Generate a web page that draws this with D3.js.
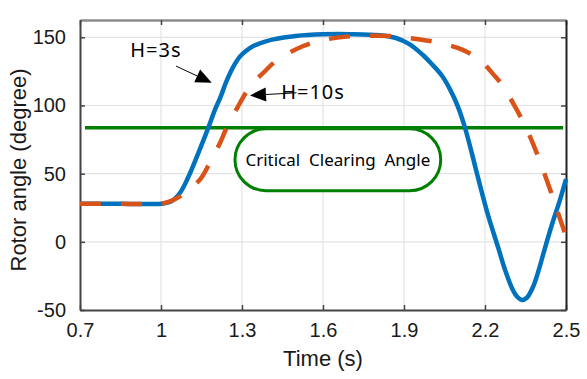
<!DOCTYPE html>
<html><head><meta charset="utf-8">
<script src="https://cdn.jsdelivr.net/npm/d3@7"></script>
<style>body{margin:0;background:#fff}svg{display:block}</style>
</head><body>
<script>
const xTicks = [0.7, 1, 1.3, 1.6, 1.9, 2.2, 2.5];
const yTicks = [-50, 0, 50, 100, 150];
const tH3  = [0.7, 0.85, 1.0, 1.04, 1.07, 1.1, 1.14, 1.175, 1.2, 1.22, 1.243, 1.268, 1.293, 1.318, 1.342, 1.38, 1.416, 1.5, 1.6, 1.7, 1.81, 1.87, 1.92, 1.97, 2.0, 2.04, 2.07, 2.1, 2.126, 2.15, 2.169, 2.19, 2.212, 2.25, 2.275, 2.3, 2.32, 2.336, 2.355, 2.378, 2.4, 2.42, 2.45, 2.478, 2.5];
const vH3  = [28, 28, 28, 30, 35.8, 47, 66, 83.6, 97, 106, 118, 128.5, 136, 140.5, 143.6, 146.5, 148.5, 151, 152.2, 152.3, 151.5, 149.5, 145, 137, 131, 122, 112, 99, 83.6, 66, 51, 35, 19, -5, -21, -34, -40.5, -42.6, -41, -33, -20, -6, 14, 31, 46];
const tH10 = [0.7, 0.85, 1.0, 1.033, 1.07, 1.144, 1.18, 1.2185, 1.243, 1.293, 1.33, 1.379, 1.428, 1.527, 1.6, 1.688, 1.78, 1.848, 1.92, 1.996, 2.06, 2.113, 2.179, 2.23, 2.26, 2.29, 2.32, 2.35, 2.38, 2.41, 2.44, 2.47, 2.5];
const vH10 = [28, 28, 28, 29.6, 33.3, 45.6, 57.8, 72.5, 83.6, 102, 114, 124, 133, 143.6, 148, 150.5, 151.2, 151, 149.5, 147.3, 144.5, 141.2, 133.8, 123, 116, 106.5, 96, 84.5, 71, 55.5, 39, 21.5, 4];
const cca = 83.6;
const ccaRange = [0.7185, 2.489];
const boxLabel = "Critical  Clearing  Angle";
const boxT = [1.274, 2.036];
const boxV = [82.9, 37.5];
const ann = [
  {label: "H=3s",  tx: 0.981, tv: 135.3, anchor: "middle", from: [1.0556, 128.9], to: [1.1878, 116.7]},
  {label: "H=10s", tx: 1.445, tv: 104.4, anchor: "start",  from: [1.502, 109.3],  to: [1.3296, 107.4]}
];
const W = 587, H = 379, m = {l: 80, r: 21, t: 20, b: 69};
const svg = d3.select("body").append("svg").attr("width", W).attr("height", H);
const x = d3.scaleLinear().domain([0.7, 2.5]).range([m.l, W - m.r]);
const y = d3.scaleLinear().domain([-50, 162.7]).range([H - m.b, m.t]);
const tickFont = "'Liberation Sans', Arial, sans-serif";
const annFont = "'Noto Sans', 'Open Sans', sans-serif";
const fmt = d => String(d);
// grid
svg.append("g").selectAll("line").data(xTicks.slice(1, -1)).join("line")
  .attr("x1", d => x(d)).attr("x2", d => x(d)).attr("y1", m.t).attr("y2", H - m.b)
  .attr("stroke", "#e3e3e3").attr("stroke-width", 1.2);
svg.append("g").selectAll("line").data(yTicks.slice(1)).join("line")
  .attr("y1", d => y(d)).attr("y2", d => y(d)).attr("x1", m.l).attr("x2", W - m.r)
  .attr("stroke", "#e3e3e3").attr("stroke-width", 1.2);
// axes
const xa = svg.append("g").attr("transform", `translate(0,${H - m.b})`)
  .call(d3.axisBottom(x).tickValues(xTicks).tickFormat(fmt).tickSizeInner(-5).tickSizeOuter(0).tickPadding(13));
const xt = svg.append("g").attr("transform", `translate(0,${m.t})`)
  .call(d3.axisTop(x).tickValues(xTicks).tickFormat("").tickSizeInner(-5).tickSizeOuter(0));
const ya = svg.append("g").attr("transform", `translate(${m.l},0)`)
  .call(d3.axisLeft(y).tickValues(yTicks).tickFormat(fmt).tickSizeInner(-5).tickSizeOuter(0).tickPadding(14));
const yr = svg.append("g").attr("transform", `translate(${W - m.r},0)`)
  .call(d3.axisRight(y).tickValues(yTicks).tickFormat("").tickSizeInner(-5).tickSizeOuter(0));
[xa, ya].forEach(g => {
  g.selectAll("text").attr("font-family", tickFont).attr("font-size", 20).attr("fill", "#1a1a1a");
  g.select(".domain").attr("stroke", "#444").attr("stroke-width", 2);
  g.selectAll(".tick line").attr("stroke", "#444").attr("stroke-width", 1.5);
});
xt.select(".domain").attr("stroke", "#8c8c8c").attr("stroke-width", 2.5);
xt.selectAll(".tick line").attr("stroke", "#444").attr("stroke-width", 1.5);
yr.select(".domain").attr("stroke", "#222").attr("stroke-width", 2);
yr.selectAll(".tick line").attr("stroke", "#444").attr("stroke-width", 1.5);
// critical line
svg.append("line").attr("x1", x(ccaRange[0])).attr("x2", x(ccaRange[1]))
  .attr("y1", y(cca)).attr("y2", y(cca)).attr("stroke", "#007f00").attr("stroke-width", 3.5);
// curves
const line = d3.line().x(d => x(d[0])).y(d => y(d[1])).curve(d3.curveCatmullRom.alpha(0.5));
svg.append("path").datum(tH3.map((t, i) => [t, vH3[i]])).attr("d", line)
  .attr("fill", "none").attr("stroke", "#0072BD").attr("stroke-width", 4.5);
svg.append("path").datum(tH10.map((t, i) => [t, vH10[i]])).attr("d", line)
  .attr("fill", "none").attr("stroke", "#D95319").attr("stroke-width", 4.5).attr("stroke-dasharray", "21,20");
// box
const bx = x(boxT[0]), bw = x(boxT[1]) - x(boxT[0]), by = y(boxV[0]), bh = y(boxV[1]) - y(boxV[0]);
svg.append("rect").attr("x", bx).attr("y", by).attr("width", bw).attr("height", bh)
  .attr("rx", bh / 2).attr("ry", bh / 2).attr("fill", "#fff").attr("stroke", "#007f00").attr("stroke-width", 3);
svg.append("text").attr("x", bx + bw / 2).attr("y", by + bh / 2).attr("dy", "0.36em")
  .attr("text-anchor", "middle").attr("font-family", annFont).attr("font-size", 17)
  .style("white-space", "pre").text(boxLabel);
// annotations
ann.forEach(a => {
  const x0 = x(a.from[0]), y0 = y(a.from[1]), x1 = x(a.to[0]), y1 = y(a.to[1]);
  const ang = Math.atan2(y1 - y0, x1 - x0), L = 16, hw = 7;
  const bxp = x1 - L * Math.cos(ang), byp = y1 - L * Math.sin(ang);
  svg.append("line").attr("x1", x0).attr("y1", y0).attr("x2", bxp).attr("y2", byp).attr("stroke", "#000").attr("stroke-width", 1);
  const pts = [[x1, y1], [bxp + hw * Math.sin(ang), byp - hw * Math.cos(ang)], [bxp - hw * Math.sin(ang), byp + hw * Math.cos(ang)]];
  svg.append("polygon").attr("points", pts.map(p => p.join(",")).join(" ")).attr("fill", "#000");
  svg.append("text").attr("x", x(a.tx)).attr("y", y(a.tv)).attr("text-anchor", a.anchor)
    .attr("font-family", annFont).attr("font-size", 20).attr("letter-spacing", 1).text(a.label);
});
// axis labels
svg.append("text").attr("x", (m.l + W - m.r) / 2).attr("y", 366).attr("text-anchor", "middle")
  .attr("font-family", tickFont).attr("font-size", 22).attr("fill", "#1a1a1a").text("Time (s)");
svg.append("text").attr("transform", "translate(26,170) rotate(-90)").attr("text-anchor", "middle")
  .attr("font-family", tickFont).attr("font-size", 22).attr("fill", "#1a1a1a").text("Rotor angle (degree)");
</script>
</body></html>
